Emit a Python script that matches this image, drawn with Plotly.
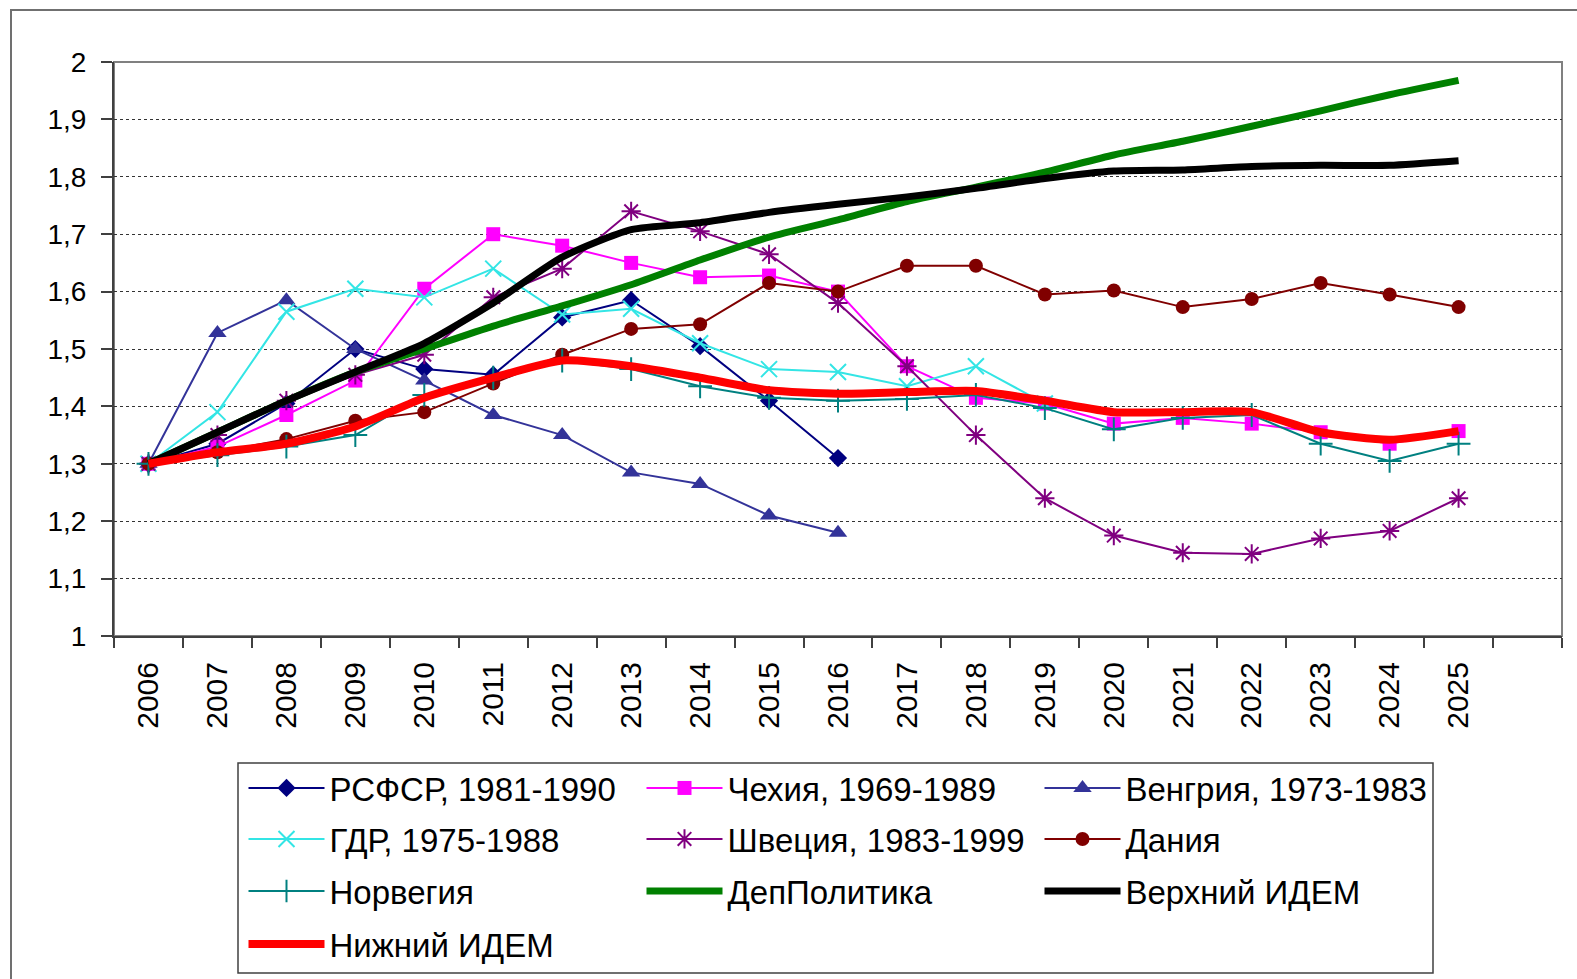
import plotly.graph_objects as go

# ---------------- data ----------------
years = [str(y) for y in range(2006, 2026)]
x_categories = years + [" "]          # last empty slot on the category axis

rsfsr = [1.30, 1.335, 1.405, 1.50, 1.465, 1.455, 1.555, 1.585, 1.505, 1.41, 1.31]
czech = [1.30, 1.33, 1.385, 1.445, 1.605, 1.70, 1.68, 1.65, 1.625, 1.628, 1.60,
         1.47, 1.415, 1.405, 1.37, 1.38, 1.37, 1.355, 1.335, 1.357]
hungary = [1.30, 1.528, 1.585, 1.50, 1.445, 1.385, 1.35, 1.285, 1.265, 1.21, 1.18]
gdr = [1.30, 1.39, 1.565, 1.605, 1.59, 1.64, 1.56, 1.57, 1.51, 1.465, 1.46,
       1.435, 1.47, 1.405]
sweden = [1.30, 1.35, 1.41, 1.455, 1.49, 1.59, 1.64, 1.74, 1.705, 1.665, 1.58,
          1.47, 1.35, 1.24, 1.175, 1.145, 1.143, 1.17, 1.183, 1.24]
denmark = [1.30, 1.32, 1.343, 1.375, 1.39, 1.44, 1.49, 1.535, 1.543, 1.615, 1.60,
           1.645, 1.645, 1.595, 1.602, 1.573, 1.587, 1.615, 1.595, 1.573]
norway = [1.30, 1.315, 1.33, 1.35, 1.42, 1.45, 1.48, 1.465, 1.435, 1.415, 1.41,
          1.413, 1.42, 1.397, 1.36, 1.38, 1.385, 1.335, 1.305, 1.335]
deppolitika = [1.30, 1.355, 1.41, 1.46, 1.50, 1.54, 1.575, 1.612, 1.655, 1.695, 1.725,
               1.757, 1.782, 1.808, 1.838, 1.862, 1.888, 1.915, 1.943, 1.968]
upper_idem = [1.30, 1.355, 1.41, 1.46, 1.51, 1.58, 1.66, 1.708, 1.72, 1.738, 1.752,
              1.765, 1.78, 1.797, 1.81, 1.812, 1.818, 1.82, 1.82, 1.828]
lower_idem = [1.30, 1.32, 1.335, 1.365, 1.415, 1.45, 1.48, 1.47, 1.45, 1.428, 1.422,
              1.425, 1.427, 1.41, 1.39, 1.39, 1.39, 1.355, 1.342, 1.357]

y_ticks = [1.0, 1.1, 1.2, 1.3, 1.4, 1.5, 1.6, 1.7, 1.8, 1.9, 2.0]
y_tick_labels = ["1", "1,1", "1,2", "1,3", "1,4", "1,5", "1,6", "1,7", "1,8", "1,9", "2"]

names = ["РСФСР, 1981-1990", "Чехия, 1969-1989", "Венгрия, 1973-1983",
         "ГДР, 1975-1988", "Швеция, 1983-1999", "Дания",
         "Норвегия", "ДепПолитика", "Верхний ИДЕМ", "Нижний ИДЕМ"]

# ---------------- layout geometry (pixels) ----------------
W, H = 1577, 979
L, R, T, B = 114, 1562, 62, 636
PW, PH = R - L, B - T


def px(xp):
    return (xp - L) / PW


def py(yp):
    return (B - yp) / PH


FONT = "Liberation Sans, Arial, sans-serif"

fig = go.Figure()


def add_series(name, values, color, symbol, msize, legend, lw=2, mline=None):
    marker = dict(symbol=symbol, size=msize, color=color)
    if mline:
        marker["line"] = dict(color=color, width=mline)
    fig.add_trace(go.Scatter(
        x=years[:len(values)], y=values, name=name, mode="lines+markers",
        line=dict(color=color, width=lw), marker=marker, legend=legend))


def add_thick(name, values, color, width, legend):
    fig.add_trace(go.Scatter(
        x=years[:len(values)], y=values, name=name, mode="lines",
        line=dict(color=color, width=width, shape="spline", smoothing=0.6),
        legend=legend))


add_series(names[0], rsfsr, "#000080", "diamond", 14, "legend")
add_series(names[1], czech, "#FF00FF", "square", 14, "legend")
add_series(names[2], hungary, "#333399", "triangle-up", 16, "legend")
add_series(names[3], gdr, "#33E5E5", "x-thin-open", 16, "legend2", mline=2)
add_series(names[4], sweden, "#800080", "asterisk-open", 16, "legend2", mline=2)
add_series(names[5], denmark, "#800000", "circle", 14, "legend2")
add_series(names[6], norway, "#008080", "cross-thin-open", 17, "legend3", mline=2)
add_thick(names[7], deppolitika, "#008000", 7, "legend3")
add_thick(names[8], upper_idem, "#000000", 7, "legend3")
add_thick(names[9], lower_idem, "#FF0000", 8, "legend4")

row_y = [788, 839, 891, 944]
leg_x = px(243.5)


def leg(yrow):
    return dict(orientation="h", x=leg_x, xanchor="left", y=py(yrow), yanchor="middle",
                entrywidth=307, entrywidthmode="pixels", itemwidth=76,
                bgcolor="rgba(0,0,0,0)", borderwidth=0,
                font=dict(family=FONT, size=33, color="#000"))


fig.update_layout(
    width=W, height=H,
    margin=dict(l=L, r=W - R, t=T, b=H - B, autoexpand=False),
    paper_bgcolor="white", plot_bgcolor="white",
    font=dict(family=FONT, size=28, color="#000"),
    showlegend=True,
    legend=leg(row_y[0]), legend2=leg(row_y[1]),
    legend3=leg(row_y[2]), legend4=leg(row_y[3]),
    xaxis=dict(type="category", categoryorder="array", categoryarray=x_categories,
               range=[-0.5, len(x_categories) - 0.5], tickson="boundaries",
               ticks="outside", ticklen=10, tickcolor="#404040", tickwidth=1.5,
               tickangle=-90, tickfont=dict(family=FONT, size=30, color="#000"),
               ticklabelstandoff=12, automargin=False,
               showline=True, linecolor="#404040", linewidth=2,
               showgrid=False, zeroline=False, fixedrange=True),
    yaxis=dict(range=[1.0, 2.0], tickvals=y_ticks, ticktext=y_tick_labels,
               ticks="outside", ticklen=11, tickcolor="#404040", tickwidth=1.5,
               tickfont=dict(family=FONT, size=28, color="#000"),
               ticklabelstandoff=9, automargin=False,
               showline=True, linecolor="#404040", linewidth=2,
               showgrid=True, gridcolor="#333", gridwidth=1, griddash="3px,3px",
               zeroline=False, fixedrange=True),
    shapes=[
        # outer chart border (extends past the right/bottom edge of the picture)
        dict(type="rect", xref="paper", yref="paper",
             x0=px(11), x1=px(1590), y0=py(990), y1=py(10),
             line=dict(color="#707070", width=2), fillcolor="rgba(0,0,0,0)", layer="below"),
        # plot area frame (top / right)
        dict(type="rect", xref="paper", yref="paper", x0=0, x1=1, y0=0, y1=1,
             line=dict(color="#808080", width=2), fillcolor="rgba(0,0,0,0)", layer="below"),
        # legend box
        dict(type="rect", xref="paper", yref="paper",
             x0=px(238), x1=px(1433), y0=py(973), y1=py(763),
             line=dict(color="#404040", width=1.5), fillcolor="rgba(0,0,0,0)"),
    ],
)

fig.write_html("out.html", config={"displayModeBar": False},
               post_script="document.body.style.margin='0';")
